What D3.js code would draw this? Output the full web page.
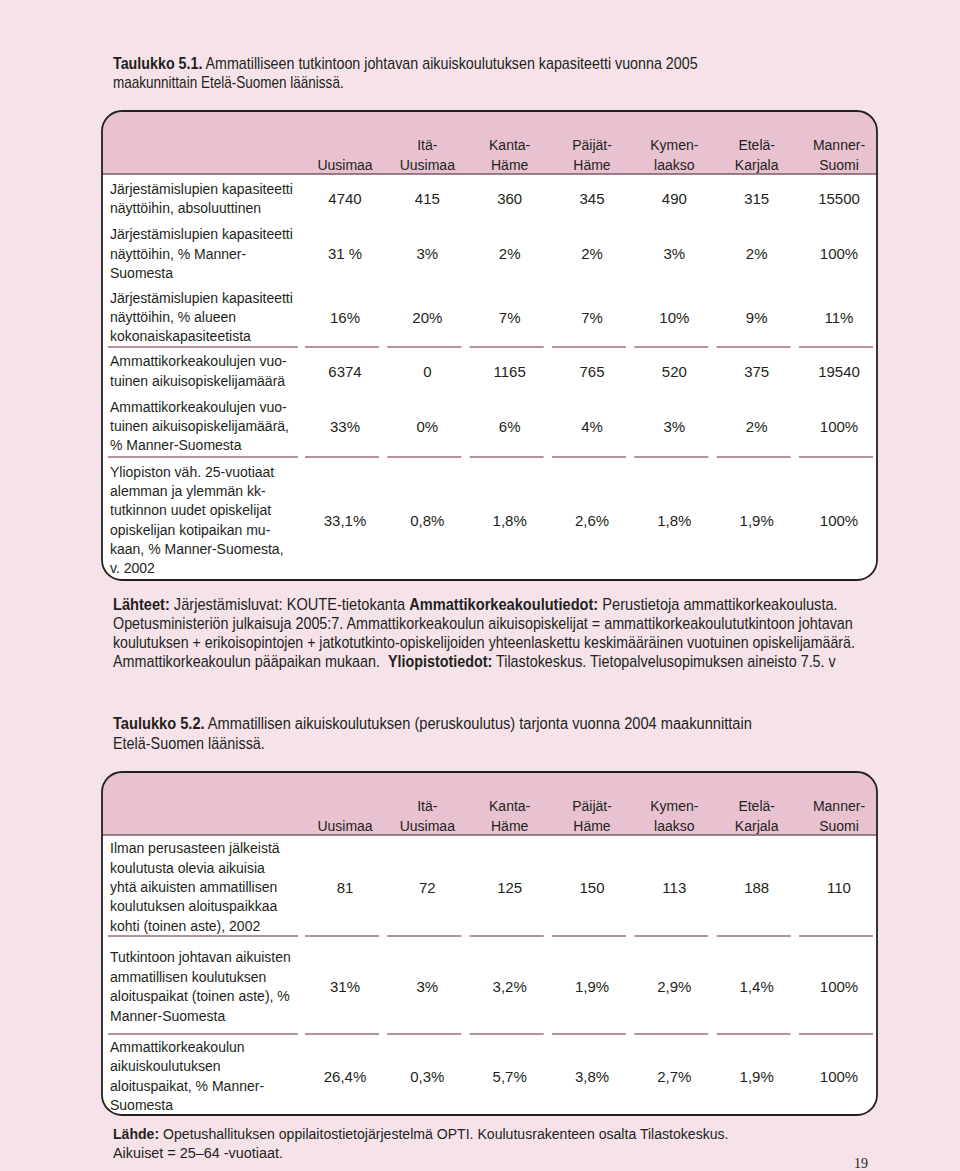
<!DOCTYPE html>
<html>
<head>
<meta charset="utf-8">
<script src="https://cdn.jsdelivr.net/npm/d3@7"></script>
<style>
  html, body { margin: 0; padding: 0; background: #f6e3ea; }
  svg { display: block; }
  text { font-family: "Liberation Sans", Arial, sans-serif; fill: #231f20; white-space: pre; }
</style>
</head>
<body>
<svg id="page"></svg>
<script>
// --- data ---
const regions = ["Uusimaa", "Itä-Uusimaa", "Kanta-Häme", "Päijät-Häme", "Kymenlaakso", "Etelä-Karjala", "Manner-Suomi"];
const headerLines = [["", "Uusimaa"], ["Itä-", "Uusimaa"], ["Kanta-", "Häme"], ["Päijät-", "Häme"], ["Kymen-", "laakso"], ["Etelä-", "Karjala"], ["Manner-", "Suomi"]];

const labels1 = [
    ["Järjestämislupien kapasiteetti", "näyttöihin, absoluuttinen"],
    ["Järjestämislupien kapasiteetti", "näyttöihin, % Manner-", "Suomesta"],
    ["Järjestämislupien kapasiteetti", "näyttöihin, % alueen", "kokonaiskapasiteetista"],
    ["Ammattikorkeakoulujen vuo-", "tuinen aikuisopiskelijamäärä"],
    ["Ammattikorkeakoulujen vuo-", "tuinen aikuisopiskelijamäärä,", "% Manner-Suomesta"],
    ["Yliopiston väh. 25-vuotiaat", "alemman ja ylemmän kk-", "tutkinnon uudet opiskelijat", "opiskelijan kotipaikan mu-", "kaan, % Manner-Suomesta,", "v. 2002"]
];
const values1 = [
    ["4740", "415", "360", "345", "490", "315", "15500"],
    ["31 %", "3%", "2%", "2%", "3%", "2%", "100%"],
    ["16%", "20%", "7%", "7%", "10%", "9%", "11%"],
    ["6374", "0", "1165", "765", "520", "375", "19540"],
    ["33%", "0%", "6%", "4%", "3%", "2%", "100%"],
    ["33,1%", "0,8%", "1,8%", "2,6%", "1,8%", "1,9%", "100%"]
];
const breaks1 = [2, 4];

const labels2 = [
    ["Ilman perusasteen jälkeistä", "koulutusta olevia aikuisia", "yhtä aikuisten ammatillisen", "koulutuksen aloituspaikkaa", "kohti (toinen aste), 2002"],
    ["Tutkintoon johtavan aikuisten", "ammatillisen koulutuksen", "aloituspaikat (toinen aste), %", "Manner-Suomesta"],
    ["Ammattikorkeakoulun", "aikuiskoulutuksen", "aloituspaikat, % Manner-", "Suomesta"]
];
const values2 = [
    ["81", "72", "125", "150", "113", "188", "110"],
    ["31%", "3%", "3,2%", "1,9%", "2,9%", "1,4%", "100%"],
    ["26,4%", "0,3%", "5,7%", "3,8%", "2,7%", "1,9%", "100%"]
];
const breaks2 = [0, 1];

const title1 = [
    [{ b: true, t: "Taulukko 5.1." }, { t: " Ammatilliseen tutkintoon johtavan aikuiskoulutuksen kapasiteetti vuonna 2005" }],
    [{ t: "maakunnittain Etelä-Suomen läänissä." }]
];
const sources1 = [
    [{ b: true, t: "Lähteet:" }, { t: " Järjestämisluvat: KOUTE-tietokanta " }, { b: true, t: "Ammattikorkeakoulutiedot:" }, { t: " Perustietoja ammattikorkeakoulusta." }],
    [{ t: "Opetusministeriön julkaisuja 2005:7. Ammattikorkeakoulun aikuisopiskelijat = ammattikorkeakoulututkintoon johtavan" }],
    [{ t: "koulutuksen + erikoisopintojen + jatkotutkinto-opiskelijoiden yhteenlaskettu keskimääräinen vuotuinen opiskelijamäärä." }],
    [{ t: "Ammattikorkeakoulun pääpaikan mukaan.  " }, { b: true, t: "Yliopistotiedot:" }, { t: " Tilastokeskus. Tietopalvelusopimuksen aineisto 7.5. v" }]
];
const title2 = [
    [{ b: true, t: "Taulukko 5.2." }, { t: " Ammatillisen aikuiskoulutuksen (peruskoulutus) tarjonta vuonna 2004 maakunnittain" }],
    [{ t: "Etelä-Suomen läänissä." }]
];
const source2 = [
    [{ b: true, t: "Lähde:" }, { t: " Opetushallituksen oppilaitostietojärjestelmä OPTI. Koulutusrakenteen osalta Tilastokeskus." }],
    [{ t: "Aikuiset = 25–64 -vuotiaat." }]
];
const pageNumber = "19";

// --- layout ---
const W = 960, H = 1171;
const bg = "#f6e3ea", headFill = "#e9c2d1", sepColor = "#b8919f";
const boxLeft = 102, boxRight = 877, labelX = 110;

const svg = d3.select("#page").attr("width", W).attr("height", H);
svg.append("rect").attr("width", W).attr("height", H).attr("fill", bg);

const x = d3.scalePoint().domain(regions).range([345, 839]);

// condensed-looking paragraph lines: set in Liberation Sans, squeezed to measured width
function fitLine(parent, x0, y, parts, width, size) {
    const t = parent.append("text").attr("font-size", size);
    parts.forEach(p => t.append("tspan").attr("font-weight", p.b ? "bold" : null).text(p.t));
    const w = t.node().getComputedTextLength();
    const k = width ? width / w : 1;
    t.attr("transform", `translate(${x0},${y}) scale(${k},1)`);
    return t;
}

function drawTable(id, top, rowHeights, labels, values, breaks, lh) {
    const headBottom = top + 63;
    const rowTops = [headBottom, ...d3.cumsum(rowHeights).map(d => headBottom + d)];
    const bottom = rowTops[rowTops.length - 1];
    const g = svg.append("g");

    g.append("clipPath").attr("id", id)
        .append("rect")
        .attr("x", boxLeft).attr("y", top)
        .attr("width", boxRight - boxLeft).attr("height", bottom - top)
        .attr("rx", 20);

    const inner = g.append("g").attr("clip-path", `url(#${id})`);
    inner.append("rect").attr("x", boxLeft).attr("y", top)
        .attr("width", boxRight - boxLeft).attr("height", headBottom - top).attr("fill", headFill);
    inner.append("rect").attr("x", boxLeft).attr("y", headBottom)
        .attr("width", boxRight - boxLeft).attr("height", bottom - headBottom).attr("fill", "#ffffff");
    inner.append("line").attr("x1", boxLeft).attr("x2", boxRight)
        .attr("y1", headBottom).attr("y2", headBottom)
        .attr("stroke", "#7c5a69").attr("stroke-width", 1.6);

    // header
    headerLines.forEach((lines, i) => {
        lines.forEach((s, k) => {
            g.append("text")
                .attr("x", x(regions[i]))
                .attr("y", headBottom - 29 + k * 19.5 + 5)
                .attr("text-anchor", "middle")
                .attr("font-size", 14)
                .text(s);
        });
    });

    // rows
    labels.forEach((lines, r) => {
        const c = (rowTops[r] + rowTops[r + 1]) / 2 + 1.5;
        lines.forEach((s, k) => {
            g.append("text")
                .attr("x", labelX)
                .attr("y", c + (k - (lines.length - 1) / 2) * lh + 5)
                .attr("font-size", 14)
                .text(s);
        });
        values[r].forEach((v, i) => {
            g.append("text")
                .attr("x", x(regions[i]))
                .attr("y", c + 5.5)
                .attr("text-anchor", "middle")
                .attr("font-size", 15)
                .text(v);
        });
    });

    // broken separator lines under row groups
    breaks.forEach(r => {
        const y = rowTops[r + 1];
        const segs = [[108, 298], ...regions.map(d => [x(d) - 40, x(d) + 34])];
        g.selectAll(null).data(segs).enter().append("line")
            .attr("x1", d => d[0]).attr("x2", d => d[1])
            .attr("y1", y).attr("y2", y)
            .attr("stroke", sepColor).attr("stroke-width", 2);
    });

    g.append("rect")
        .attr("x", boxLeft).attr("y", top)
        .attr("width", boxRight - boxLeft).attr("height", bottom - top)
        .attr("rx", 20)
        .attr("fill", "none")
        .attr("stroke", "#231f20")
        .attr("stroke-width", 1.8);
}

const txt = svg.append("g");
const titleWidths = [585, 231];
title1.forEach((p, i) => fitLine(txt, 113, 68.5 + i * 19.5, p, titleWidths[i], 16));

drawTable("clip1", 111, [46, 64, 63, 45, 65, 123], labels1, values1, breaks1, 19.3);

const srcWidths = [725, 740, 742, 723];
sources1.forEach((p, i) => fitLine(txt, 113, 609.5 + i * 19, p, srcWidths[i], 16));

const title2Widths = [639, 152];
title2.forEach((p, i) => fitLine(txt, 113, 728.5 + i * 20, p, title2Widths[i], 16));

drawTable("clip2", 772, [101, 98, 81], labels2, values2, breaks2, 19.4);

const src2Widths = [616, 170];
source2.forEach((p, i) => fitLine(txt, 113, 1139 + i * 19, p, src2Widths[i], 14.5));

txt.append("text")
    .attr("x", 868).attr("y", 1168)
    .attr("text-anchor", "end")
    .attr("font-size", 14)
    .style("font-family", "'Liberation Serif', 'DejaVu Serif', serif")
    .text(pageNumber);
</script>
</body>
</html>
